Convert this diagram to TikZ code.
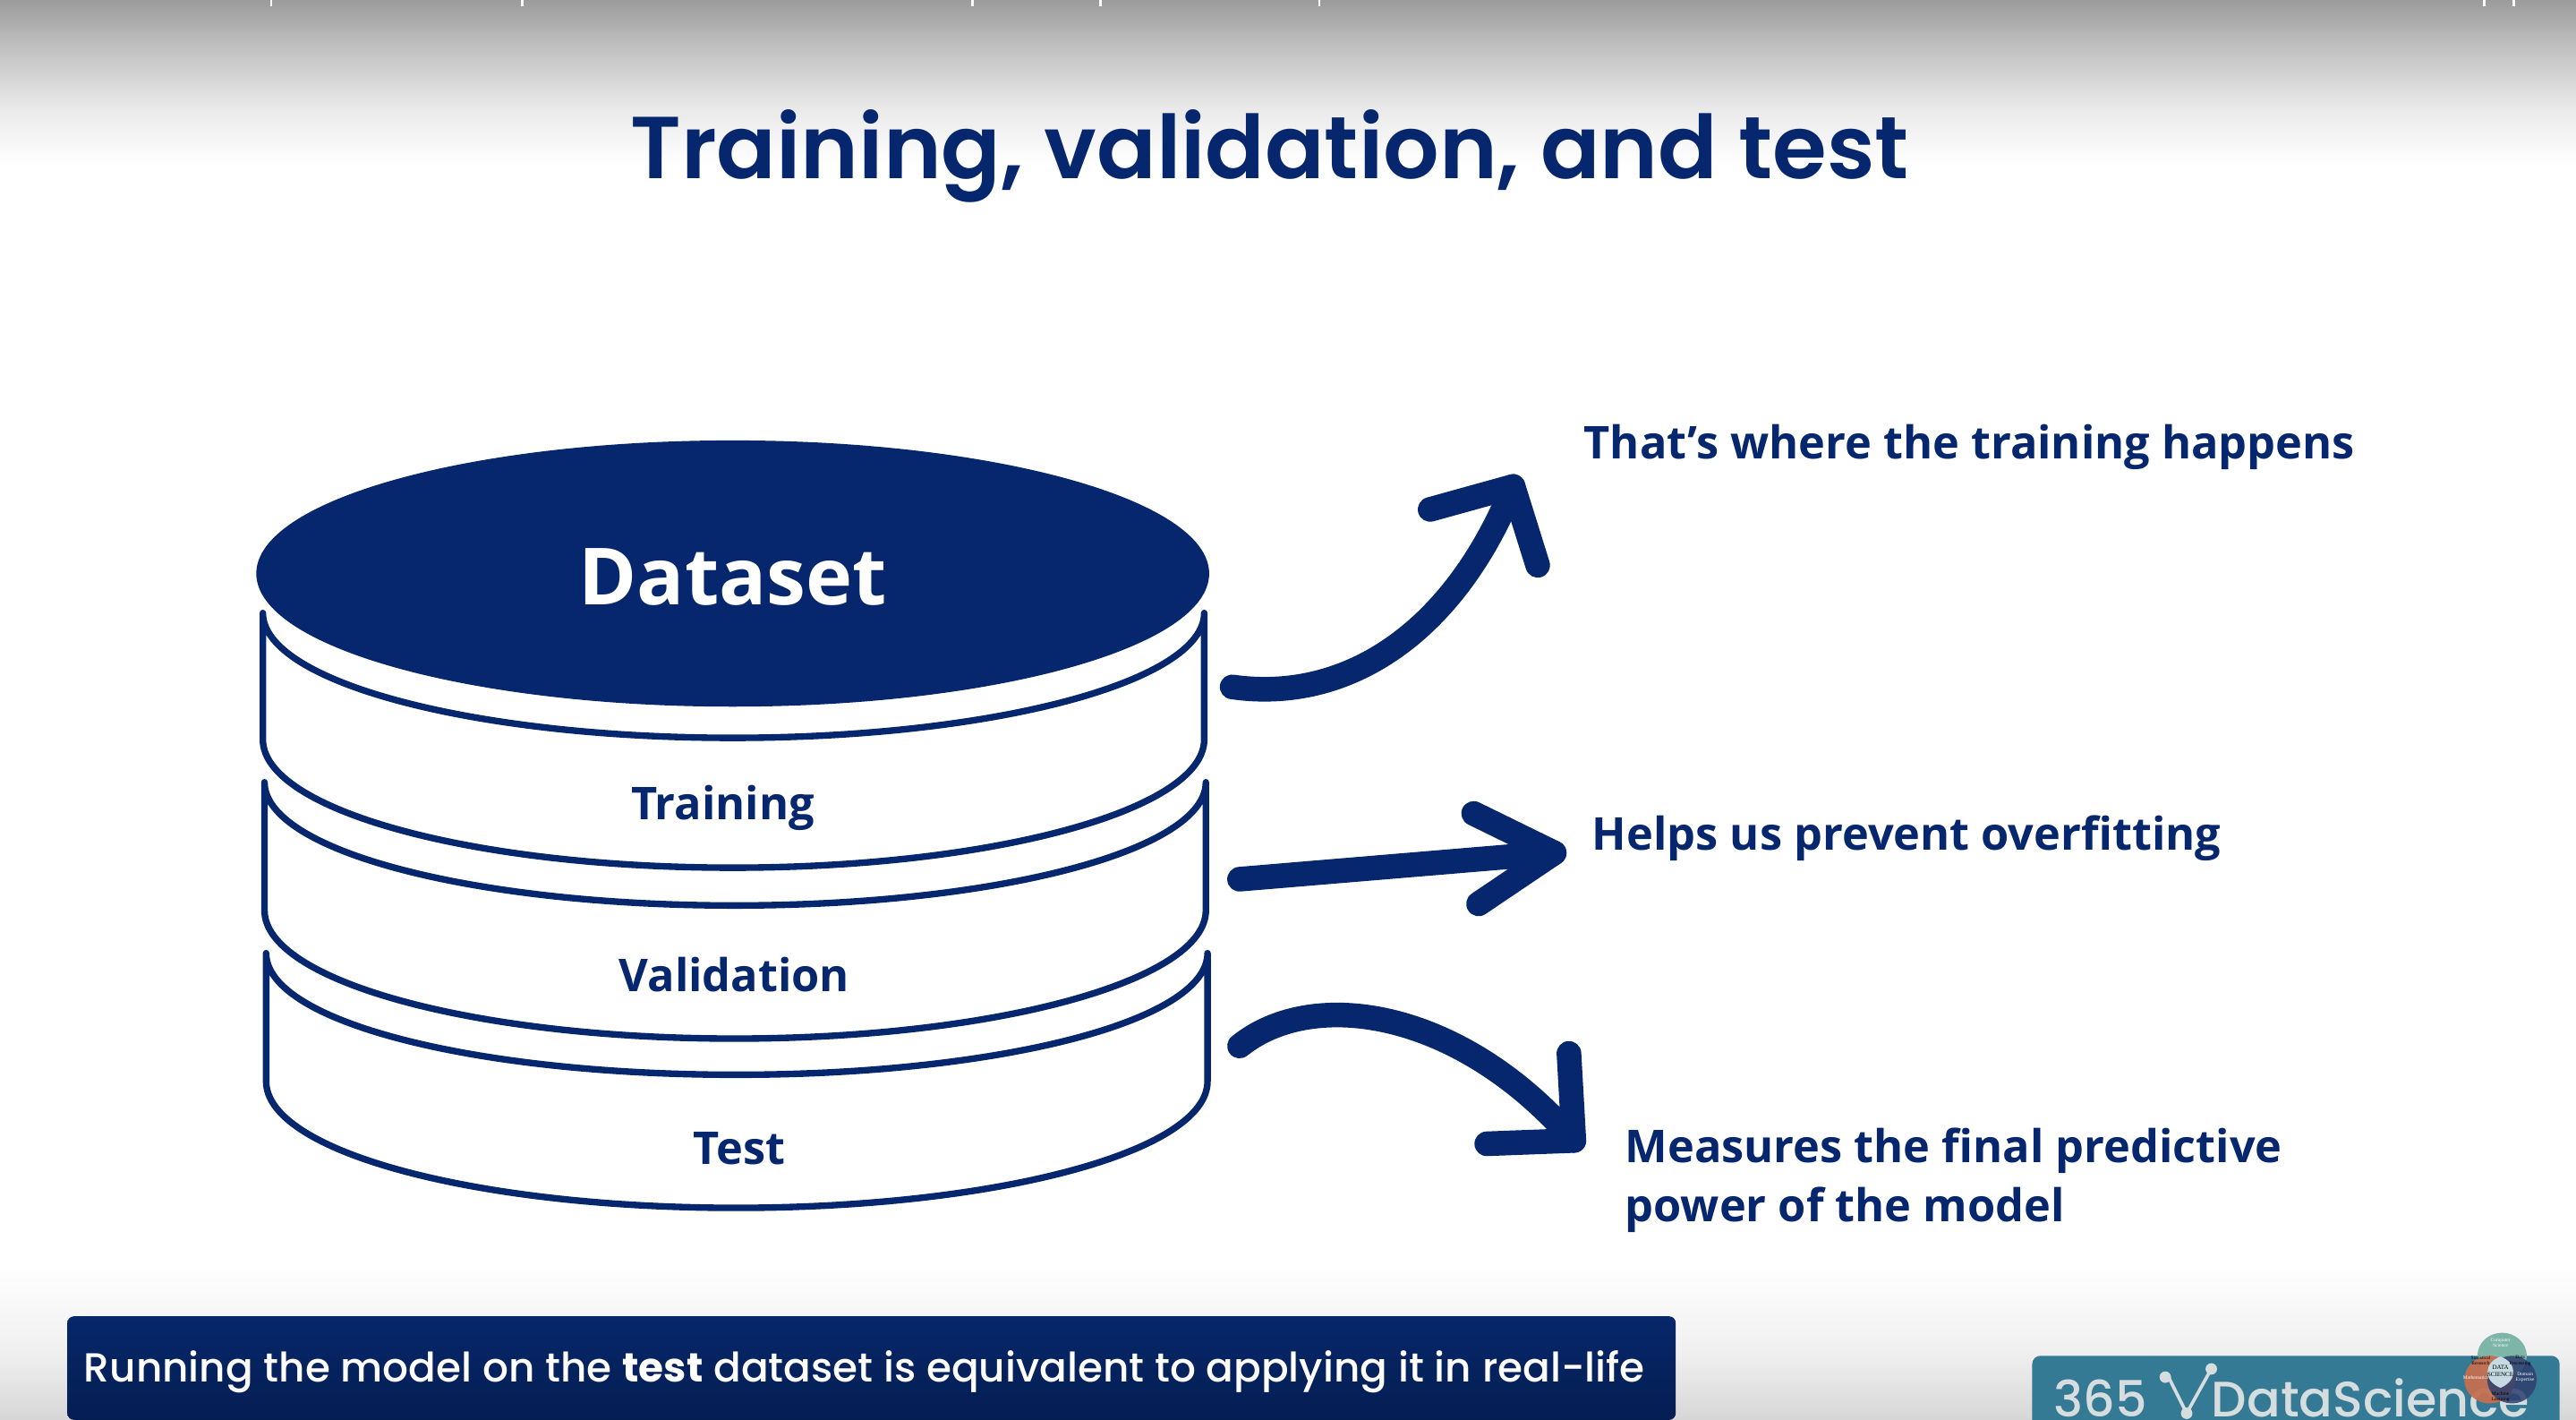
\documentclass[tikz,border=0pt]{standalone}
\usepackage{fontspec}
\setmainfont{Open Sans}
\newfontfamily\titlefont{Poppins SemiBold}
\newfontfamily\capfont[BoldFont={Poppins Bold}]{Poppins Medium}
\newfontfamily\logofont{Poppins Medium}
\newfontfamily\vennfont{Liberation Serif}
\usetikzlibrary{shapes.geometric}
\definecolor{navy}{HTML}{06276E}
\definecolor{bartop}{HTML}{06276A}
\definecolor{barbot}{HTML}{051E52}
\definecolor{logoblue}{HTML}{357A94}
\definecolor{logotext}{HTML}{D5DDDF}
\definecolor{venngreen}{HTML}{7DB5A9}
\definecolor{vennorange}{HTML}{C46F50}
\definecolor{vennblue}{HTML}{2F3F6E}
\definecolor{venncore}{HTML}{C5DAE2}
\pgfdeclareverticalshading{topfade}{100bp}{rgb(0bp)=(1,1,1); rgb(25bp)=(1,1,1); rgb(43bp)=(.91,.91,.91); rgb(60bp)=(.76,.76,.76); rgb(75bp)=(.61,.61,.61); rgb(100bp)=(.61,.61,.61)}
\pgfdeclareverticalshading{botfade}{100bp}{rgb(0bp)=(.84,.84,.84); rgb(25bp)=(.84,.84,.84); rgb(47bp)=(.94,.94,.94); rgb(75bp)=(1,1,1); rgb(100bp)=(1,1,1)}
\tikzset{
  wall/.style={draw=navy,line width=4pt,line join=round,fill=white},
  layerlabel/.style={text=navy,font=\bfseries\fontsize{27.5}{32}\selectfont,inner sep=0pt},
  note/.style={text=navy,font=\bfseries\fontsize{27.5}{36}\selectfont,inner sep=0pt,anchor=west,align=left},
  bigarrow/.style={draw=navy,line width=15pt,line cap=round,line join=round},
  venntext/.style={inner sep=0pt,align=center,font=\vennfont\fontsize{3}{3.5}\selectfont},
}
\begin{document}
\begin{tikzpicture}[x=1pt,y=-1pt]
\useasboundingbox (0,0) rectangle (1568,864);
\fill[white] (0,0) rectangle (1568,864);
\shade[shading=topfade] (0,0) rectangle (1568,100);
\shade[shading=botfade] (0,770) rectangle (1568,864);
% clipped caption remnants at the top edge
\foreach \xx in {165,318,592,670,803,1512,1530}{\fill[white] (\xx-.7,0) rectangle (\xx+.7,4);}
% title
\node[inner sep=0pt,text=navy] (title) at (773,95) {\titlefont\fontsize{53.5}{64}\selectfont Training, validation, and test};
% bottom layer first, so upper layers overlap
\draw[wall] (162,580) -- (162,658) .. controls (162,701) and (290,735) .. (448,735) .. controls (606,735) and (735,701) .. (735,658) -- (735,580) .. controls (735,622) and (606,654) .. (448,654) .. controls (290,654) and (162,622) .. (162,580) -- cycle;
\draw[wall] (161,476) -- (161,554) .. controls (161,597) and (289,632) .. (447,632) .. controls (605,632) and (734,597) .. (734,554) -- (734,476) .. controls (734,518) and (605,551) .. (447,551) .. controls (289,551) and (161,518) .. (161,476) -- cycle;
\draw[wall] (160,373) -- (160,450) .. controls (160,493) and (288,528) .. (446,528) .. controls (604,528) and (733,493) .. (733,450) -- (733,373) .. controls (733,415) and (604,449) .. (446,449) .. controls (288,449) and (160,415) .. (160,373) -- cycle;
\node[ellipse,fill=navy,minimum width=580pt,minimum height=162pt,inner sep=0pt] (top) at (446,349) {};
\node[inner sep=0pt,text=white,font=\bfseries\fontsize{48}{56}\selectfont] (dataset) at (446,351) {Dataset};
\node[layerlabel] (training) at (440,491.5) {Training};
\node[layerlabel] (validation) at (447,593) {Validation};
\node[layerlabel] (test) at (450,699) {Test};
% arrows
\coordinate (a1s) at (750,418);\coordinate (a1t) at (921,296);
\coordinate (a2s) at (754.5,535);\coordinate (a2t) at (946,519);
\coordinate (a3s) at (754.5,636.5);\coordinate (a3t) at (958,694);
\draw[bigarrow] (a1s) .. controls (820,428) and (885,385) .. (a1t);
\draw[bigarrow] (870.5,310) -- (a1t) -- (936,344);
\draw[bigarrow] (a2s) -- (a2t);
\draw[bigarrow] (897,495) -- (a2t) -- (900,550);
\draw[bigarrow] (a3s) .. controls (800,600) and (890,615) .. (a3t);
\draw[bigarrow] (955,641) -- (a3t) -- (905,696);
% notes
\node[note] (n1) at (964,272) {That’s where the training happens};
\node[note] (n2) at (969,510) {Helps us prevent overfitting};
\node[note] (n3) at (989,718) {Measures the final predictive\\power of the model};
% caption bar
\shade[top color=bartop,bottom color=barbot,rounded corners=4pt] (41,801) rectangle (1020,864);
\node[inner sep=0pt,anchor=west,text=white] (cap) at (51,835) {\capfont\fontsize{24.7}{30}\selectfont Running the model on the \textbf{test} dataset is equivalent to applying it in real-life};
% logo badge
\begin{scope}
\clip (0,0) rectangle (1568,864);
\fill[logoblue,rounded corners=5pt] (1237,825) rectangle (1558,880);
\node[inner sep=0pt,anchor=base west,text=logotext] (l1) at (1250,862) {\logofont\fontsize{30.3}{34}\selectfont 365};
\node[inner sep=0pt,anchor=base west,text=logotext] (l2) at (1346,862) {\logofont\fontsize{30.3}{34}\selectfont DataScience};
\draw[logotext,line width=2pt] (1320,838) -- (1331,860) -- (1346,833);
\fill[logotext] (1318,838) circle (3.5pt) (1331,860) circle (3.5pt) (1346,833) circle (3.5pt);
\fill[venngreen] (1523,825) ellipse (15pt and 14pt);
\fill[vennorange,opacity=.95] (1515.5,839.5) ellipse (15.5pt and 14.5pt);
\fill[vennblue,opacity=.85] (1529,839.5) ellipse (15pt and 14.5pt);
\fill[venncore] (1522,825.5) .. controls (1532,829) and (1533,840) .. (1522,844.5) .. controls (1511,840) and (1512,829) .. (1522,825.5) -- cycle;
\node[venntext,text=white] (vcs) at (1522,817) {Computer\\Science};
\node[venntext,text=white] (vma) at (1507,838) {Mathematics};
\node[venntext,text=white] (vde) at (1537,838) {Domain\\Expertise};
\node[venntext] (vsr) at (1510,828) {Statistical\\Research};
\node[venntext] (vdp) at (1534,828) {Data\\Processing};
\node[venntext] (vml) at (1522,850) {Machine\\Learning};
\node[venntext,font=\vennfont\fontsize{3.8}{4.4}\selectfont] (vds) at (1522,834) {DATA\\SCIENCE};
\end{scope}
\end{tikzpicture}
\end{document}
